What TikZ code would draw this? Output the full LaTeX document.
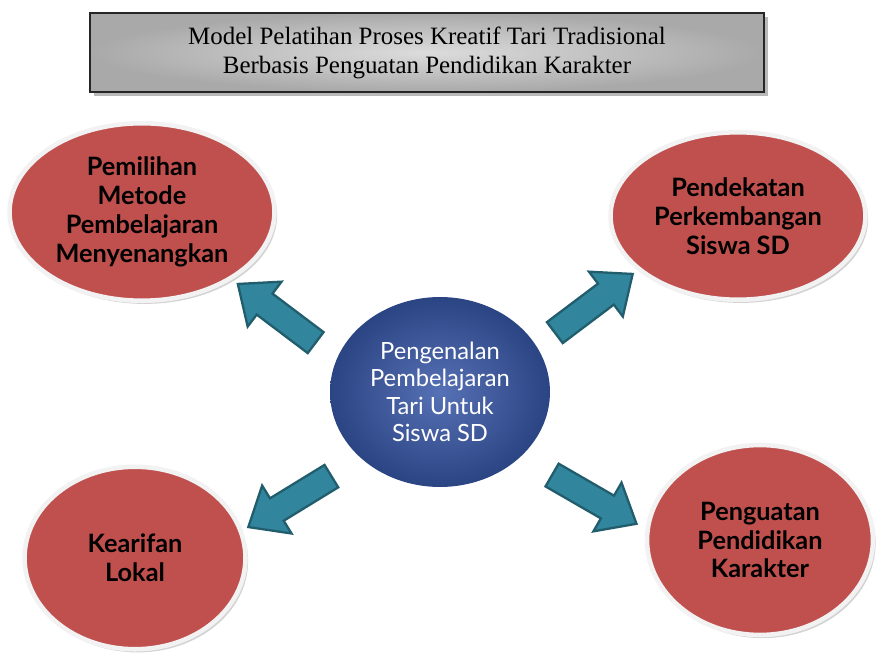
\documentclass[tikz,border=0pt]{standalone}
\usepackage{fontspec}
\setmainfont{Liberation Serif}
\newfontfamily\isifont{Lato}
\usetikzlibrary{shapes.geometric,shapes.arrows,shadows}
\definecolor{merah}{HTML}{C0504D}
\definecolor{biru}{HTML}{2B4483}
\definecolor{birumuda}{HTML}{5671B5}
\definecolor{tosca}{HTML}{31859C}
\definecolor{toscatua}{HTML}{215D6C}
\definecolor{abu}{HTML}{A9A9A9}
\definecolor{abumuda}{HTML}{DCDCDC}

\tikzset{
  judul/.style={rectangle, draw=black!85, line width=0.7pt,
    inner color=abumuda, outer color=abu,
    minimum width=13.48cm, minimum height=1.58cm, align=center,
    font=\fontsize{14.2}{16.5}\selectfont,
    drop shadow={shadow xshift=2.5pt, shadow yshift=-2.5pt, opacity=0.55}},
  topik/.style={ellipse, fill=merah, draw=gray!10, line width=2.6pt,
    inner sep=0pt, align=center,
    font=\isifont\bfseries\fontsize{14.4}{16.4}\selectfont,
    drop shadow={shadow xshift=1.5pt, shadow yshift=-1.8pt, opacity=0.35}},
  pusat/.style={ellipse, inner color=birumuda, outer color=biru,
    inner sep=0pt, align=center, text=white,
    font=\isifont\fontsize{13.5}{15.6}\selectfont},
  panah/.style={single arrow, fill=tosca, draw=toscatua, line width=1.3pt,
    minimum height=1.95cm, inner sep=0pt, inner ysep=0.24cm,
    single arrow head extend=0.3cm, single arrow tip angle=80}
}

\begin{document}
\begin{tikzpicture}[x=0.02cm, y=-0.02cm]
  \useasboundingbox (0,0) rectangle (876,655);

  % judul
  \node[judul] (judul) at (427,52.5)
    {Model Pelatihan Proses Kreatif Tari Tradisional\\
     Berbasis Penguatan Pendidikan Karakter};

  % lingkaran tengah
  \node[pusat, minimum width=4.4cm, minimum height=3.8cm] (pusat) at (440,392)
    {Pengenalan\\Pembelajaran\\Tari Untuk\\Siswa SD};

  % elips sekeliling
  \node[topik, minimum width=5.3cm, minimum height=3.55cm] (metode) at (142,212)
    {Pemilihan\\Metode\\Pembelajaran\\Menyenangkan};
  \node[topik, minimum width=5.1cm, minimum height=3.35cm] (siswa) at (738,216)
    {Pendekatan\\Perkembangan\\Siswa SD};
  \node[topik, minimum width=4.42cm, minimum height=3.65cm] (lokal) at (135,558)
    {Kearifan\\Lokal};
  \node[topik, minimum width=4.52cm, minimum height=3.8cm] (karakter) at (760,540)
    {Penguatan\\Pendidikan\\Karakter};

  % panah blok
  \node[panah, rotate=143] (keMetode) at (283,318) {};
  \node[panah, rotate=37] (keSiswa) at (587.5,308) {};
  \node[panah, rotate=211.5] (keLokal) at (296.5,497.5) {};
  \node[panah, rotate=-30] (keKarakter) at (587.5,495.5) {};
\end{tikzpicture}
\end{document}
